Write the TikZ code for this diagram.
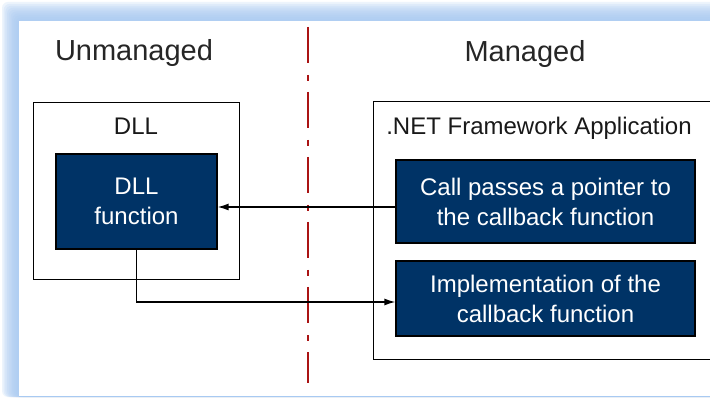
\documentclass[tikz,border=0pt]{standalone}
\usepackage{fontspec}
\setmainfont{Liberation Sans}
\usetikzlibrary{arrows.meta}
\definecolor{navy}{RGB}{0,51,102}
\definecolor{glow}{RGB}{168,202,242}
\definecolor{divred}{RGB}{170,20,20}
\begin{document}
\begin{tikzpicture}[x=1pt,y=-1pt,
  outerbox/.style={draw=black, line width=1.4pt, inner sep=0pt, anchor=north west},
  bluebox/.style={draw=black, line width=1.2pt, fill=navy, text=white, font=\fontsize{24}{30}\selectfont, align=center, inner sep=0pt},
  heading/.style={font=\fontsize{29}{34}\selectfont, anchor=base, text=black!85},
  boxtitle/.style={font=\fontsize{24}{29}\selectfont, anchor=base, text=black!90},
  arr/.style={draw=black, line width=1.5pt, -{Latex[length=11pt,width=7pt]}},
  divider/.style={divred, line width=1.4pt, dash pattern=on 36pt off 12pt on 6pt off 11pt}
]
\useasboundingbox (0,0) rectangle (710,398);
\clip (0,0) rectangle (710,398);
\fill[white] (0,0) rectangle (710,398);
\foreach \i in {0,...,9} {
  \fill[glow, opacity=0.2, rounded corners=6pt] (2+\i*1.7, 2+\i*1.9) rectangle (740, 397);
}
\fill[white] (19,21) rectangle (710,396);
\draw[glow, line width=1pt] (19,396.5) -- (710,396.5);

\node[heading] (unm) at (134,61) {Unmanaged};
\node[heading] (man) at (525,62) {Managed};

\coordinate (divtop) at (308,27);
\coordinate (divbot) at (308,383);
\draw[divider] (divtop) -- (divbot);

\node[outerbox, minimum width=206pt, minimum height=177pt] (dll) at (33,102) {};
\node[outerbox, minimum width=350pt, minimum height=258pt] (net) at (373,101) {};
\node[boxtitle] (dlltitle) at (136,135) {DLL};
\node[boxtitle] (nettitle) at (539,135) {.NET Framework Application};

\node[bluebox, minimum width=161pt, minimum height=95pt] (dllf) at (136.5,201.5) {DLL\\function};
\node[bluebox, minimum width=299pt, minimum height=83pt] (call) at (545.5,201.5) {Call passes a pointer to\\the callback function};
\node[bluebox, minimum width=299pt, minimum height=75pt] (impl) at (545.5,298.5) {Implementation of the\\callback function};

\draw[arr] ([yshift=-5.5pt]call.west) -- ([yshift=-5.5pt]call.west -| dllf.east);
\draw[arr] (dllf.south) |- ([yshift=-3.5pt]impl.west);
\end{tikzpicture}
\end{document}
